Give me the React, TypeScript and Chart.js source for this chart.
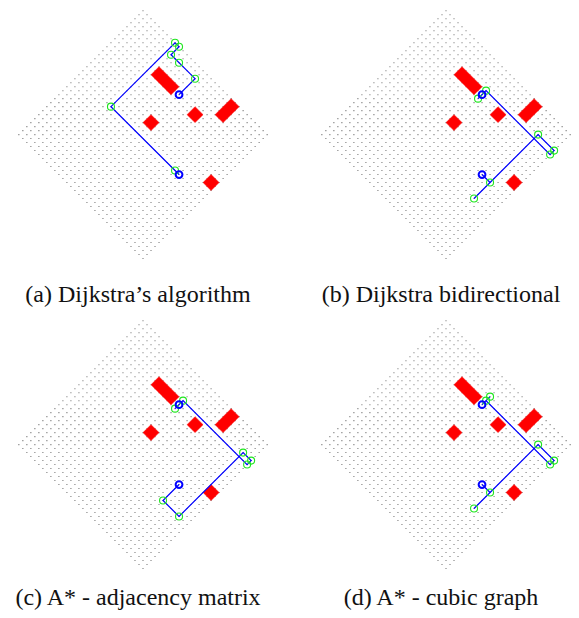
import React, { useEffect, useRef } from "react";
import { Chart, registerables } from "chart.js";

Chart.register(...registerables);

type P = [number, number];

// Lattice of GRID_SIZE x GRID_SIZE nodes, shown rotated by 45 degrees.
const GRID_SIZE = 32;

// Obstacles as [u0, v0, u1, v1] in lattice units.
const obstacles: number[][] = [
  [9, 5, 14, 7],
  [14, 12, 16, 14],
  [18.5, 5.5, 20.5, 7.5],
  [22, 0, 24, 4],
  [29, 12, 31, 14],
];

// Start / goal nodes (same for every method).
const endpoints: P[] = [
  [15, 6],
  [25, 16],
];

// (a) Dijkstra
const dijkstraPaths: P[][] = [
  [[15, 6], [15, 2], [9, 2], [9, 0], [8, 0], [8, 16], [24, 16], [25, 16]],
];
const dijkstraNodes: P[] = [[15, 2], [11, 2], [9, 2], [9, 0], [8, 0], [8, 16], [24, 16]];

// (b) Dijkstra bidirectional
const bidirPaths: P[][] = [
  [[15, 7], [15, 5], [31, 5], [31, 4], [27, 4], [27, 20]],
  [[27, 16], [25, 16]],
];
const bidirNodes: P[] = [[15, 7], [15, 5], [31, 5], [31, 4], [27, 4], [27, 16], [27, 20]];

// (c) A* with adjacency matrix
const astarMatrixPaths: P[][] = [
  [[15, 7], [15, 5], [31, 5], [31, 4], [29, 4], [29, 20], [25, 20], [25, 16]],
];
const astarMatrixNodes: P[] = [[15, 7], [15, 5], [31, 5], [31, 4], [29, 4], [29, 20], [25, 20]];

// (d) A* on cubic graph
const astarCubicPaths: P[][] = [
  [[15, 6], [15, 4], [15, 5], [31, 5], [31, 4], [27, 4], [27, 20]],
  [[27, 16], [25, 16]],
];
const astarCubicNodes: P[] = [[15, 5], [15, 4], [31, 5], [31, 4], [27, 4], [27, 16], [27, 20]];

const captions = [
  "(a) Dijkstra\u2019s algorithm",
  "(b) Dijkstra bidirectional",
  "(c) A* - adjacency matrix",
  "(d) A* - cubic graph",
];

const toXY = (p: P) => ({ x: p[0] - p[1], y: p[0] + p[1] });

const CANVAS_W = 286;
const CANVAS_H = 270;
const STEP = 4.18; // pixels per rotated unit
const TOP_OFFSET = 5;

interface PanelProps {
  paths: P[][];
  nodes: P[];
  left: number;
  top: number;
}

function Panel({ paths, nodes, left, top }: PanelProps) {
  const ref = useRef<HTMLCanvasElement | null>(null);

  useEffect(() => {
    if (!ref.current) return;
    const gridPts: { x: number; y: number }[] = [];
    for (let u = 0; u < GRID_SIZE; u++) {
      for (let v = 0; v < GRID_SIZE; v++) gridPts.push(toXY([u, v]));
    }
    const datasets: any[] = [];
    datasets.push({
      data: endpoints.map(toXY),
      pointRadius: 3.4,
      pointBorderWidth: 2,
      pointBorderColor: "#0000ff",
      pointBackgroundColor: "rgba(0,0,0,0)",
      order: 0,
    });
    datasets.push({
      data: nodes.map(toXY),
      pointRadius: 3.5,
      pointBorderWidth: 1.1,
      pointBorderColor: "#1fe61f",
      pointBackgroundColor: "rgba(0,0,0,0)",
      order: 1,
    });
    paths.forEach((path) =>
      datasets.push({
        data: path.map(toXY),
        showLine: true,
        borderColor: "#0000ff",
        borderWidth: 1.2,
        pointRadius: 0,
        fill: false,
        tension: 0,
        order: 2,
      })
    );
    obstacles.forEach(([u0, v0, u1, v1]) =>
      datasets.push({
        data: ([[u0, v0], [u1, v0], [u1, v1], [u0, v1], [u0, v0]] as P[]).map(toXY),
        showLine: true,
        fill: "shape",
        backgroundColor: "#ff0000",
        borderColor: "#ff0000",
        borderWidth: 0.5,
        pointRadius: 0,
        tension: 0,
        order: 3,
      })
    );
    datasets.push({
      data: gridPts,
      pointStyle: "rect",
      pointRadius: 0.75,
      pointBorderWidth: 0,
      pointBackgroundColor: "#777777",
      order: 4,
    });

    const halfX = CANVAS_W / 2 / STEP;
    const yMin = -TOP_OFFSET / STEP;
    const chart = new Chart(ref.current, {
      type: "scatter",
      data: { datasets },
      options: {
        animation: false,
        responsive: false,
        events: [],
        layout: { padding: 0 },
        plugins: {
          legend: { display: false },
          title: { display: false },
          tooltip: { enabled: false },
        },
        scales: {
          x: { type: "linear", display: false, min: -halfX, max: halfX },
          y: {
            type: "linear",
            display: false,
            reverse: true,
            min: yMin,
            max: yMin + CANVAS_H / STEP,
          },
        },
      },
    });
    return () => chart.destroy();
  }, [paths, nodes]);

  return (
    <canvas
      ref={ref}
      width={CANVAS_W}
      height={CANVAS_H}
      style={{ position: "absolute", left, top, width: CANVAS_W, height: CANVAS_H }}
    />
  );
}

const captionStyle = (left: number, top: number): React.CSSProperties => ({
  position: "absolute",
  left,
  top,
  width: 276,
  textAlign: "center",
  fontFamily: '"Liberation Serif", serif',
  fontSize: 24,
  lineHeight: "24px",
  color: "#111",
  whiteSpace: "nowrap",
});

export default function App() {
  return (
    <div
      style={{
        position: "fixed",
        left: 0,
        top: 0,
        width: 579,
        height: 618,
        background: "#ffffff",
        overflow: "hidden",
      }}
    >
      <Panel paths={dijkstraPaths} nodes={dijkstraNodes} left={0} top={0} />
      <Panel paths={bidirPaths} nodes={bidirNodes} left={303} top={0} />
      <Panel paths={astarMatrixPaths} nodes={astarMatrixNodes} left={0} top={310} />
      <Panel paths={astarCubicPaths} nodes={astarCubicNodes} left={303} top={310} />
      <div style={captionStyle(0, 282)}>{captions[0]}</div>
      <div style={captionStyle(303, 282)}>{captions[1]}</div>
      <div style={captionStyle(0, 585)}>{captions[2]}</div>
      <div style={captionStyle(303, 585)}>{captions[3]}</div>
    </div>
  );
}
